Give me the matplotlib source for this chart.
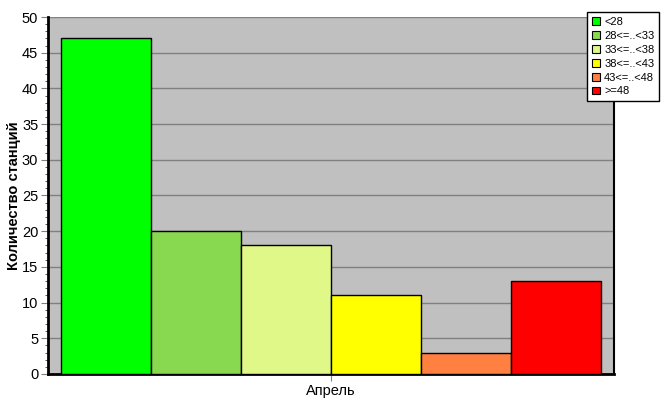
import matplotlib
matplotlib.use('Agg')
from matplotlib import pyplot as plt
from matplotlib.ticker import MultipleLocator
from matplotlib.patches import Patch

# Данные гистограммы
classes = ['<28', '28<=..<33', '33<=..<38', '38<=..<43', '43<=..<48', '>=48']
counts = [47, 20, 18, 11, 3, 13]
colors = ['#00ff00', '#88d850', '#e0f888', '#ffff00', '#ff8040', '#ff0000']
month = 'Апрель'

plt.rcParams['font.family'] = ['Liberation Sans', 'DejaVu Sans']

fig = plt.figure(figsize=(6.67, 4.15), dpi=100)
ax = fig.add_axes([0.072, 0.099, 0.8485, 0.86])
ax.set_facecolor('#c0c0c0')

pos = list(range(len(counts)))
ax.bar(pos, counts, width=1.0, color=colors, edgecolor='black', linewidth=1, zorder=3)

pad = 13 / 90
ax.set_xlim(-0.5 - pad, len(counts) - 0.5 + pad)
ax.set_ylim(0, 50)
ax.yaxis.set_major_locator(MultipleLocator(5))
ax.yaxis.set_minor_locator(MultipleLocator(1))
ax.grid(axis='y', color='#808080', linewidth=1, zorder=0)

ax.set_xticks([(len(counts) - 1) / 2])
ax.set_xticklabels([month], fontsize=10.5)
ax.tick_params(axis='x', length=5, color='#808080', pad=2)
ax.tick_params(axis='y', which='major', length=5, color='#808080', labelsize=10.5, pad=2)
ax.tick_params(axis='y', which='minor', length=2, color='#404040')

for s in ['left', 'bottom']:
    ax.spines[s].set_linewidth(2)
    ax.spines[s].set_color('black')
ax.spines['right'].set_linewidth(1.5)
ax.spines['top'].set_visible(False)

ax.set_ylabel('Количество станций', fontsize=10.5, fontweight='bold')
ax.yaxis.set_label_coords(-27 / 566, 0.5)

handles = [Patch(facecolor=c, edgecolor='black', linewidth=0.8) for c in colors]
leg = fig.legend(handles, classes, loc='upper left', bbox_to_anchor=(587 / 667, 1 - 12 / 415),
                 fontsize=8, frameon=True, fancybox=False, edgecolor='black',
                 handlelength=0.7, handleheight=0.7, handletextpad=0.4,
                 labelspacing=0.35, borderpad=0.45, borderaxespad=0)
leg.get_frame().set_linewidth(1)
leg.get_frame().set_facecolor('white')
leg.get_frame().set_alpha(1)

plt.savefig('out.png', dpi=100)
